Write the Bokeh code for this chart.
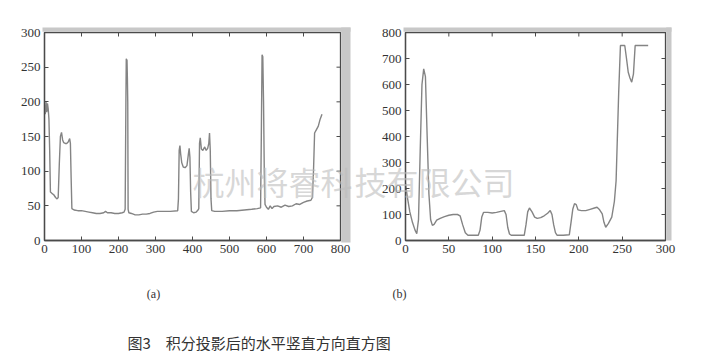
from bokeh.plotting import figure
from bokeh.layouts import row, column
from bokeh.models import Range1d, FixedTicker
from bokeh.core.properties import value
from bokeh.embed import file_html
from bokeh.resources import INLINE

# ---------------- data: (a) horizontal projection ----------------
a_x = [0, 2, 4, 6, 8, 10, 12, 14, 16, 20, 25, 30, 34, 37, 40, 43, 46, 49, 52, 56, 60, 64, 68,
       70, 72, 74, 80, 90, 100, 110, 120, 130, 140, 150, 160, 165, 170, 180, 190, 200, 210,
       215, 218, 220, 221, 223, 224, 225, 226, 228, 235, 245, 255, 265, 275, 285, 295, 305,
       320, 340, 360, 362, 364, 366, 368, 371, 375, 380, 385, 389, 391, 393, 395, 397, 403,
       410, 415, 417, 419, 421, 424, 428, 433, 437, 441, 444, 446, 448, 450, 452, 460, 480,
       500, 520, 540, 560, 575, 584, 586, 588, 590, 592, 594, 596, 600, 605, 610, 615, 620,
       630, 640, 650, 660, 670, 680, 690, 700, 710, 720, 724, 727, 730, 735, 740, 745, 750]
a_y = [195, 182, 200, 185, 198, 190, 175, 130, 70, 68, 66, 62, 60, 62, 110, 150, 156, 145, 141,
       140, 140, 142, 147, 140, 90, 46, 44, 43, 43, 42, 41, 40, 39, 39, 40, 42, 40, 40, 39, 39,
       40, 41, 45, 200, 262, 260, 235, 200, 45, 40, 39, 37, 37, 38, 38, 39, 41, 42, 42, 42, 43,
       60, 130, 137, 125, 112, 106, 105, 108, 125, 133, 120, 70, 42, 40, 41, 44, 46, 140, 148,
       132, 130, 135, 130, 133, 140, 155, 130, 60, 43, 42, 42, 43, 43, 44, 45, 46, 47, 150, 268,
       265, 200, 100, 52, 48, 45, 50, 46, 49, 50, 48, 51, 49, 50, 53, 52, 55, 57, 58, 62, 100,
       155, 160, 165, 175, 182]

# ---------------- data: (b) vertical projection ----------------
b_x = [0, 2, 5, 8, 11, 13, 15, 17, 19, 21, 23, 25, 27, 29, 31, 33, 36, 40, 45, 50, 55, 60, 63,
       66, 69, 72, 78, 84, 86, 88, 90, 95, 100, 105, 110, 114, 116, 118, 120, 122, 130, 137,
       139, 141, 143, 146, 149, 152, 156, 160, 164, 167, 169, 171, 173, 175, 182, 189, 191,
       193, 195, 197, 199, 203, 208, 213, 218, 221, 224, 227, 229, 231, 234, 238, 241, 243,
       246, 248, 250, 253, 255, 257, 259, 261, 263, 265, 270, 275, 280]
b_y = [220, 170, 110, 70, 40, 26, 80, 350, 600, 660, 630, 400, 180, 80, 58, 62, 78, 85, 92, 97,
       100, 100, 95, 60, 30, 20, 20, 20, 40, 90, 108, 108, 106, 108, 112, 115, 100, 50, 25, 20,
       20, 20, 60, 110, 125, 110, 90, 85, 88, 95, 105, 115, 100, 60, 30, 20, 20, 22, 70, 120,
       142, 138, 118, 115, 115, 120, 125, 128, 118, 102, 70, 51, 65, 90, 150, 230, 570, 750,
       750, 750, 700, 647, 625, 609, 640, 750, 750, 750, 750]

a_xticks = [0, 100, 200, 300, 400, 500, 600, 700, 800]
a_yticks = [0, 50, 100, 150, 200, 250, 300]
b_xticks = [0, 50, 100, 150, 200, 250, 300]
b_yticks = [0, 100, 200, 300, 400, 500, 600, 700, 800]

label_a = "(a)"
label_b = "(b)"
caption = "图3　积分投影后的水平竖直方向直方图"
watermark_a = "杭州将睿科"
watermark_b = "技有限公司"

FRAME = "#4a4a4a"
CURVE = "#848484"
BAND = "#c8c8c8"
TXT = "#333333"
SERIF = "Liberation Serif"
CJK = "Noto Sans CJK SC"
FW, FH = None, 208  # frame height in px


def make_panel(xs, ys, xr, yr, xt, yt, width, mbl, fw):
    p = figure(width=width, height=316, output_backend="svg", toolbar_location=None,
               x_range=Range1d(*xr), y_range=Range1d(*yr),
               min_border_left=mbl, min_border_right=14, min_border_top=32,
               min_border_bottom=76)
    p.grid.visible = False
    p.background_fill_color = "white"
    p.border_fill_color = "white"
    p.outline_line_color = FRAME
    p.outline_line_width = 1.3
    p.xaxis.ticker = FixedTicker(ticks=xt)
    p.yaxis.ticker = FixedTicker(ticks=yt)
    for ax in p.axis:
        ax.axis_line_color = FRAME
        ax.axis_line_width = 1.3
        ax.major_tick_line_color = FRAME
        ax.major_tick_in = 4
        ax.major_tick_out = 0
        ax.minor_tick_line_color = None
        ax.major_label_text_font = SERIF
        ax.major_label_text_font_size = "13px"
        ax.major_label_text_color = TXT
        ax.major_label_standoff = 4
    # inward ticks on top and right edges (tick length 4 px)
    ux = (xr[1] - xr[0]) / fw
    uy = (yr[1] - yr[0]) / FH
    p.segment(x0=xt, y0=[yr[1]] * len(xt), x1=xt, y1=[yr[1] - 4 * uy] * len(xt),
              line_color=FRAME, line_width=1)
    p.segment(x0=[xr[1]] * len(yt), y0=yt, x1=[xr[1] - 4 * ux] * len(yt), y1=yt,
              line_color=FRAME, line_width=1)
    p.line(xs, ys, line_color=CURVE, line_width=1.4)
    return p, ux, uy


pa, ua_x, ua_y = make_panel(a_x, a_y, (0, 800), (0, 300), a_xticks, a_yticks, 354, 44, 296)
pb, ub_x, ub_y = make_panel(b_x, b_y, (0, 300), (0, 800), b_xticks, b_yticks, 325, 51, 260)

# scan-shadow bands just outside the frame (top and right)
pa.quad(left=[-2 * ua_x, 800 + 0.7 * ua_x], right=[800 + 10 * ua_x, 800 + 10 * ua_x],
        bottom=[300 + 0.7 * ua_y, -2 * ua_y], top=[300 + 5 * ua_y, 300 + 5 * ua_y],
        fill_color=BAND, line_color=None, level="overlay")
pb.quad(left=[-2 * ub_x, 300 + 0.7 * ub_x], right=[300 + 6 * ub_x, 300 + 6 * ub_x],
        bottom=[800 + 0.7 * ub_y, 0], top=[800 + 5 * ub_y, 800 + 5 * ub_y],
        fill_color=BAND, line_color=None, level="overlay")

# sub-figure labels
pa.text(x=[(153 - 44) * ua_x], y=[-53 * ua_y], text=[label_a], text_font=value(SERIF),
        text_font_size="12px", text_color=TXT, text_align="center", text_baseline="middle",
        level="overlay")
pb.text(x=[-6 * ub_x], y=[-53 * ub_y], text=[label_b], text_font=value(SERIF),
        text_font_size="12px", text_color=TXT, text_align="center", text_baseline="middle",
        level="overlay")

# watermark
pa.text(x=[(192 - 44) * ua_x], y=[60 * ua_y], text=[watermark_a], text_font=value(CJK),
        text_font_size="32px", text_font_style="normal", text_color="#bdbdbd",
        text_alpha=0.6, text_align="left", text_baseline="middle", level="overlay")
pb.text(x=[(354 - 405) * ub_x], y=[60 * ub_y], text=[watermark_b], text_font=value(CJK),
        text_font_size="32px", text_font_style="normal", text_color="#bdbdbd",
        text_alpha=0.6, text_align="left", text_baseline="middle", level="overlay")

# caption
pc = figure(width=679, height=47, output_backend="svg", toolbar_location=None,
            x_range=Range1d(0, 679), y_range=Range1d(0, 47), x_axis_type=None,
            y_axis_type=None, min_border=0)
pc.grid.visible = False
pc.outline_line_color = None
pc.text(x=[127], y=[21], text=[caption], text_font=value(CJK), text_font_size="15px",
        text_color=TXT, text_align="left", text_baseline="middle")

layout = column(row(pa, pb), pc)
open("out.html", "w").write(file_html(layout, INLINE))
